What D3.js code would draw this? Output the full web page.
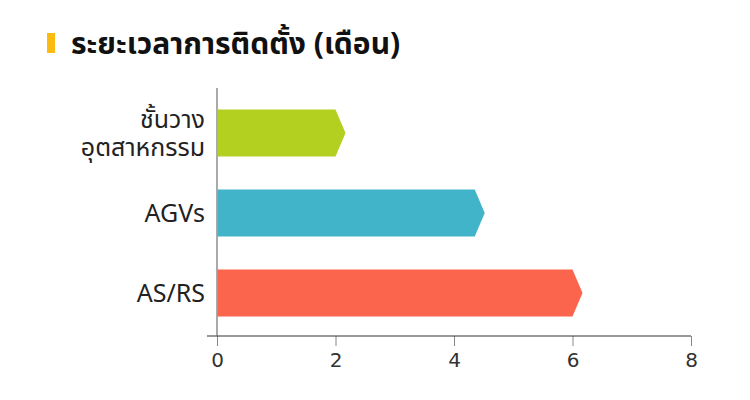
<!DOCTYPE html>
<html><head><meta charset="utf-8">
<script src="https://cdn.jsdelivr.net/npm/d3@7"></script>
<style>body{margin:0;background:#fff}svg{display:block}</style>
</head><body>
<script>
const title = "ระยะเวลาการติดตั้ง (เดือน)";
const categories = [["ชั้นวาง","อุตสาหกรรม"],["AGVs"],["AS/RS"]];
const values = [2, 4.35, 6];
const colors = ["#b3cf20", "#41b4c9", "#fb654d"];
const tickValues = [0, 2, 4, 6, 8];

const W = 750, H = 400;
const svg = d3.select("body").append("svg").attr("width", W).attr("height", H);
const font = "'Noto Sans Thai', 'Noto Sans', 'DejaVu Sans', sans-serif";

svg.append("rect").attr("x", 47).attr("y", 33).attr("width", 8).attr("height", 20).attr("fill", "#fbbb10");
svg.append("text").attr("x", 71).attr("y", 54).attr("font-family", font).attr("font-weight", 700)
  .attr("font-size", 30).attr("fill", "#111").text(title);

const x = d3.scaleLinear().domain([0, 8]).range([217, 691]);
const y = d3.scaleBand().domain(d3.range(categories.length)).range([93, 333]).paddingInner(0.41).paddingOuter(0.205);

// axis
const axisY = 336;
const gx = svg.append("g").attr("transform", `translate(0,${axisY})`)
  .call(d3.axisBottom(x).tickValues(tickValues).tickSize(10).tickPadding(7));
gx.select(".domain").remove();
gx.selectAll(".tick line").attr("stroke", "#888");
gx.selectAll(".tick text").attr("font-family", "'DejaVu Sans', sans-serif").attr("font-size", 20).attr("fill", "#333");
svg.append("line").attr("x1", 207).attr("x2", x(8)).attr("y1", axisY).attr("y2", axisY).attr("stroke", "#333").attr("stroke-width", 1);
svg.append("line").attr("x1", x(0)).attr("x2", x(0)).attr("y1", 88).attr("y2", axisY).attr("stroke", "#555").attr("stroke-width", 1);

// bars (arrow shape)
const tip = 10;
values.forEach((v, i) => {
  const x0 = x(0) + 0.5, x1 = x(v), y0 = y(i), y1 = y(i) + y.bandwidth(), ym = (y0 + y1) / 2;
  svg.append("path").attr("d", `M${x0},${y0}L${x1},${y0}L${x1 + tip},${ym}L${x1},${y1}L${x0},${y1}Z`).attr("fill", colors[i]);
  const lines = categories[i];
  const lh = 28;
  lines.forEach((l, j) => {
    svg.append("text").attr("text-anchor", "end").attr("font-family", font).attr("font-size", 25).attr("fill", "#222")
      .attr("x", 205).attr("y", ym + 9 + (j - (lines.length - 1) / 2) * lh).text(l);
  });
});
</script>
</body></html>
